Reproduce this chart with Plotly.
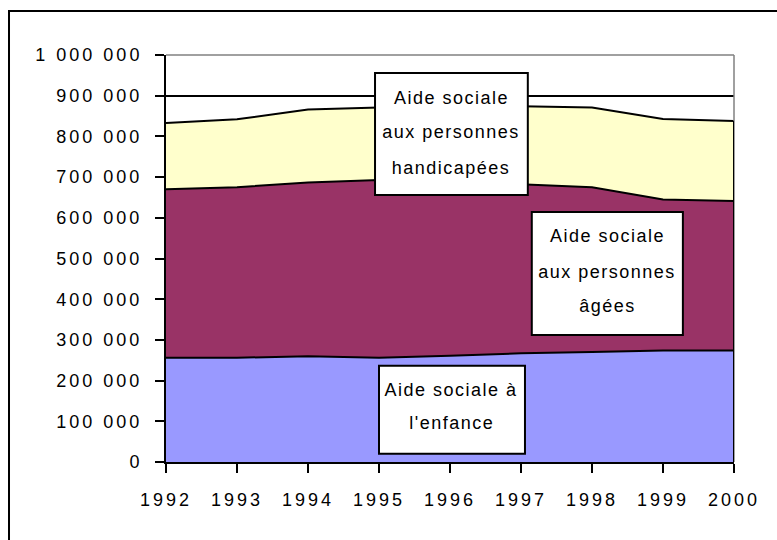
import plotly.graph_objects as go

years = [1992, 1993, 1994, 1995, 1996, 1997, 1998, 1999, 2000]
year_labels = [str(y) for y in years]
enfance = [256000, 256000, 260000, 256000, 261000, 267000, 270000, 274000, 274000]
agees = [414000, 419000, 427000, 437000, 429000, 416000, 405000, 371000, 367000]
handicap = [163000, 167000, 179000, 178000, 183000, 191000, 196000, 198000, 197000]
y_ticks = [0, 100000, 200000, 300000, 400000, 500000, 600000, 700000, 800000, 900000, 1000000]
y_labels = ["0", "100 000", "200 000", "300 000", "400 000", "500 000", "600 000",
            "700 000", "800 000", "900 000", "1 000 000"]

FONT = "Liberation Sans, Arial, sans-serif"

fig = go.Figure()
series = [
    ("Aide sociale à l'enfance", enfance, "#9999FF"),
    ("Aide sociale aux personnes âgées", agees, "#993366"),
    ("Aide sociale aux personnes handicapées", handicap, "#FFFFCC"),
]
for name, vals, col in series:
    fig.add_trace(go.Scatter(
        x=years, y=vals, name=name, mode="lines", stackgroup="one",
        line=dict(color="black", width=2), fillcolor=col, hoverinfo="skip",
    ))

totals = [a + b + c for a, b, c in zip(enfance, agees, handicap)]

shapes = [
    # outer frame
    dict(type="rect", xref="paper", yref="paper", x0=-0.2764, x1=1.0986, y0=-0.2408, y1=1.108,
         line=dict(color="black", width=2), layer="above"),
    # plot area border top/right (grey)
    dict(type="line", xref="paper", yref="paper", x0=0, x1=1, y0=1, y1=1,
         line=dict(color="#808080", width=1.5), layer="above"),
    dict(type="line", xref="paper", yref="paper", x0=1, x1=1, y0=0, y1=1,
         line=dict(color="#808080", width=1.5), layer="above"),
    # right edge of the stacked area outline
    dict(type="line", xref="x", yref="y", x0=years[-1], x1=years[-1], y0=0, y1=totals[-1],
         line=dict(color="black", width=2), layer="above"),
]

boxes = [
    (0.368, 0.637, 0.656, 0.956, 0.5026,
     [("Aide sociale", 0.894), ("aux personnes", 0.8115), ("handicapées", 0.723)]),
    (0.644, 0.910, 0.312, 0.614, 0.777,
     [("Aide sociale", 0.555), ("aux personnes", 0.467), ("âgées", 0.383)]),
    (0.375, 0.632, 0.0204, 0.2366, 0.5035,
     [("Aide sociale à", 0.177), ("l'enfance", 0.095)]),
]
annotations = []
for x0, x1, y0, y1, cx, lines in boxes:
    shapes.append(dict(type="rect", xref="paper", yref="paper", x0=x0, x1=x1, y0=y0, y1=y1,
                       fillcolor="white", line=dict(color="black", width=2), layer="above"))
    for txt, ty in lines:
        annotations.append(dict(text=txt, xref="paper", yref="paper", x=cx, y=ty,
                                xanchor="center", yanchor="middle", showarrow=False,
                                font=dict(family=FONT, size=18, color="black")))

fig.update_layout(
    width=777, height=540,
    margin=dict(l=166, r=43, t=55, b=78),
    paper_bgcolor="white", plot_bgcolor="white",
    showlegend=False, hovermode=False,
    shapes=shapes, annotations=annotations,
    xaxis=dict(range=[years[0], years[-1]], tickvals=years, ticktext=year_labels,
               showgrid=False, zeroline=False, showline=True, linecolor="black", linewidth=2,
               ticks="outside", ticklen=9, tickwidth=2, tickcolor="black",
               ticklabelstandoff=11,
               tickfont=dict(family=FONT, size=18, color="black")),
    yaxis=dict(range=[0, 1000000], tickvals=y_ticks, ticktext=y_labels,
               showgrid=True, gridcolor="black", gridwidth=1.5, zeroline=False,
               showline=True, linecolor="black", linewidth=2,
               ticks="outside", ticklen=9, tickwidth=2, tickcolor="black",
               ticklabelstandoff=9,
               tickfont=dict(family=FONT, size=18, color="black")),
)

css = ("html, body { margin: 0; padding: 0; overflow: hidden; } "
       ".xtick text, .ytick text { letter-spacing: 3px; } "
       ".annotation text { letter-spacing: 1.5px; }")
post = ("var s=document.createElement('style');s.innerHTML=" + repr(css) +
        ";document.head.appendChild(s);")
fig.write_html("out.html", post_script=post, config={"displayModeBar": False})
